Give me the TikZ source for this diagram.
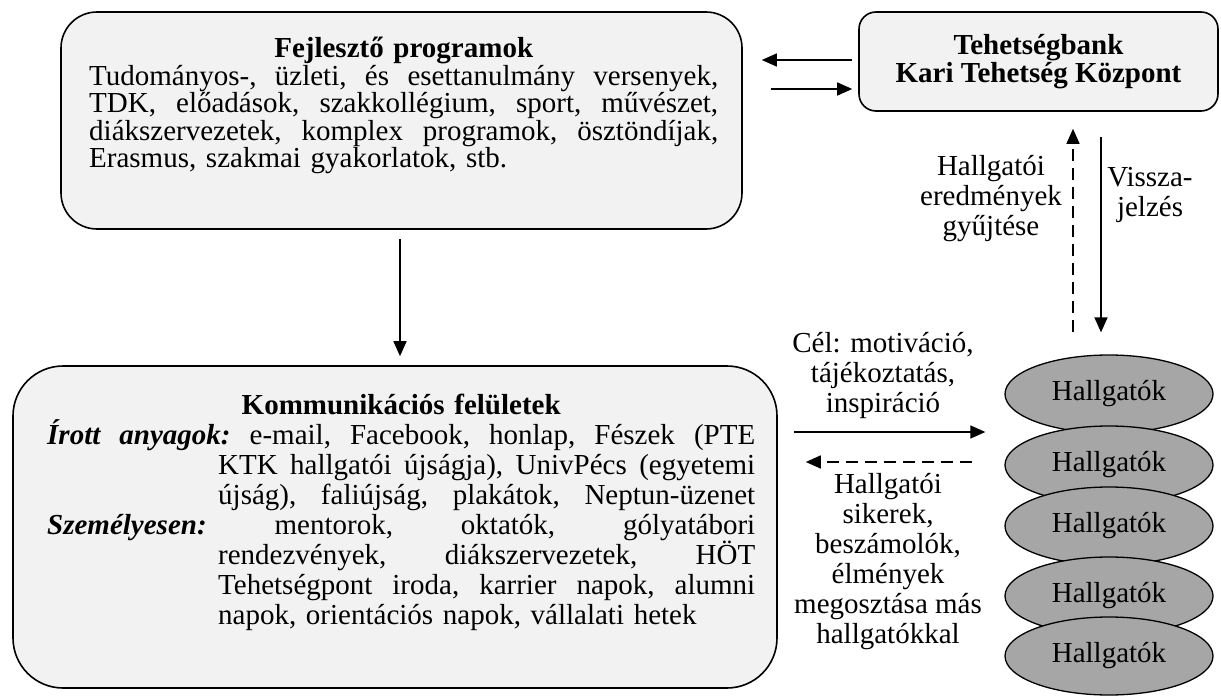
\documentclass[tikz,border=0pt]{standalone}
\usepackage{fontspec}
\setmainfont{Liberation Serif}
\usetikzlibrary{arrows.meta,shapes.geometric,calc}
\definecolor{boxfill}{HTML}{F2F2F2}
\definecolor{ovalfill}{HTML}{A6A6A6}
% a justified line: word spaces share out the free room evenly
\newcommand\fullline[2]{\leavevmode\hbox to #1{\frenchspacing\spaceskip=0.25em plus 1fil\xspaceskip=\spaceskip\relax #2}}
\begin{document}
\begin{tikzpicture}[x=1pt,y=-1pt,
  rbox/.style={draw, line width=1.6pt, fill=boxfill, inner sep=0pt},
  body/.style={inner sep=0pt, align=left, font=\fontsize{29}{25.5}\selectfont},
  lbl/.style={inner sep=0pt, align=center, font=\fontsize{29}{30}\selectfont},
  oval/.style={ellipse, draw, line width=1.3pt, fill=ovalfill,
    minimum width=208pt, minimum height=78pt, inner sep=0pt,
    font=\fontsize{29}{30}\selectfont},
  arr/.style={line width=1.5pt, -{Triangle[length=15pt,width=13pt]}},
  darr/.style={arr, dash pattern=on 12pt off 7pt}]
\useasboundingbox (0,0) rectangle (1221,698);

% boxes
\node[rbox, minimum width=681pt, minimum height=217pt, rounded corners=36pt] (fejl) at (401.5,120.5) {};
\node[rbox, minimum width=359pt, minimum height=99pt, rounded corners=17pt] (bank) at (1038.5,61.5) {};
\node[rbox, minimum width=764pt, minimum height=322pt, rounded corners=50pt] (komm) at (395,527) {};

% box texts
\node[body, anchor=base west, text width=629pt] (fejltext) at (89,58) {%
\makebox[629pt][c]{\bfseries Fejlesztő programok}\\
\fullline{629pt}{Tudományos-, üzleti, és esettanulmány versenyek,}\\
\fullline{629pt}{TDK, előadások, szakkollégium, sport, művészet,}\\
\fullline{629pt}{diákszervezetek, komplex programok, ösztöndíjak,}\\
Erasmus, szakmai gyakorlatok, stb.};

\node[lbl, font=\fontsize{29}{28}\selectfont\bfseries] (banktext) at (bank.center) {Tehetségbank\\Kari Tehetség Központ};

\node[body, anchor=base west, text width=708pt, font=\fontsize{29}{30}\selectfont] (kommtext) at (47,414) {%
\makebox[708pt][c]{\bfseries Kommunikációs felületek}\\
\fullline{708pt}{\textbf{\textit{Írott anyagok:}} e-mail, Facebook, honlap, Fészek (PTE}\\
\hspace*{171pt}\fullline{537pt}{KTK hallgatói újságja), UnivPécs (egyetemi}\\
\hspace*{171pt}\fullline{537pt}{újság), faliújság, plakátok, Neptun-üzenet}\\
\fullline{708pt}{\textbf{\textit{Személyesen:}} mentorok, oktatók, gólyatábori}\\
\hspace*{171pt}\fullline{537pt}{rendezvények, diákszervezetek, HÖT}\\
\hspace*{171pt}\fullline{537pt}{Tehetségpont iroda, karrier napok, alumni}\\
\hspace*{171pt}napok, orientációs napok, vállalati hetek};

% stacked student ovals, each lower one over the one above
\node[oval] (h1) at (1109,394) {Hallgatók};
\node[oval] (h2) at (1109,465) {Hallgatók};
\node[oval] (h3) at (1109,526) {Hallgatók};
\node[oval] (h4) at (1109,596) {Hallgatók};
\node[oval] (h5) at (1109,656) {Hallgatók};

% free labels
\node[lbl, anchor=north] (gyujt) at (991,155) {Hallgatói\\eredmények\\gyűjtése};
\node[lbl, anchor=north] (vissza) at (1150,167) {Vissza-\\jelzés};
\node[lbl, anchor=north] (cel) at (883,332) {Cél: motiváció,\\tájékoztatás,\\inspiráció};
\node[lbl, anchor=north] (siker) at (888,473) {Hallgatói\\sikerek,\\beszámolók,\\élmények\\megosztása más\\hallgatókkal};

% connectors
\draw[arr] ($(bank.west)+(-6,-1.5)$) -- ($(fejl.east |- bank.west)+(19,-1.5)$);
\draw[arr] ($(fejl.east |- bank.west)+(28,27.5)$) -- ($(bank.west)+(-6,27.5)$);
\draw[arr] ($(fejl.south)+(-1.5,9)$) -- ($(komm.north)+(5,-9)$);
\draw[darr] ($(h1.north)+(-36,-22)$) -- ($(bank.south)+(34.5,17)$);
\draw[arr] ($(bank.south)+(62.5,25)$) -- ($(h1.north)+(-8,-22)$);
\draw[arr] ($(komm.east)+(16,-95)$) -- ($(h1.west)+(-19,38)$);
\draw[darr] ($(h2.west)+(-32,-3)$) -- ($(komm.east)+(28,-65)$);
\end{tikzpicture}
\end{document}
